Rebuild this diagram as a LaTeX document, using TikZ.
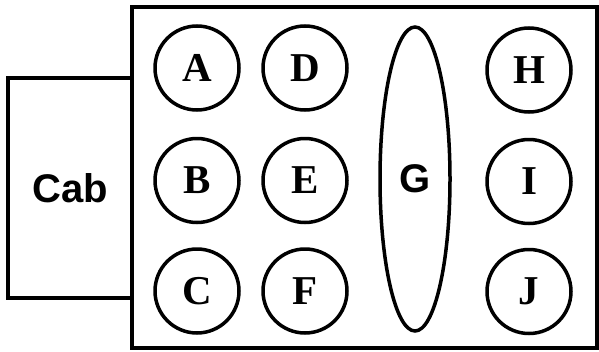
\documentclass[tikz,border=0pt]{standalone}
\usepackage{fontspec}
\setmainfont{Liberation Serif}
\newfontfamily\sanslabel{Liberation Sans}
\usepackage{tikz}
\usetikzlibrary{
  positioning,
  shapes.geometric
}

\begin{document}
\begin{tikzpicture}[
    x=1pt,
    y=-1pt,
    pin/.style={draw,circle,line width=3.5pt,inner sep=0pt,
      minimum size=84pt,font=\fontsize{41}{41}\selectfont\bfseries},
    bigpin/.style={draw,ellipse,line width=3.5pt,inner sep=0pt,
      minimum width=70pt,minimum height=304pt,
      font=\sanslabel\fontsize{40}{40}\selectfont\bfseries}
    ]
    
    \useasboundingbox (0,0) rectangle (599,351);
    
    \node[draw,line width=4pt,minimum width=124pt,minimum height=220pt,
      inner sep=0pt,font=\sanslabel\fontsize{40}{40}\selectfont\bfseries]
    (cab) at (70,188) {Cab};
    
    \draw[line width=4pt] (132,7) rectangle (597,348);
    
    \node[pin] (A) at (197,68) {A};
    \node[pin] (B) at (197,180.5) {B};
    \node[pin] (C) at (197,291) {C};
    
    \node[pin] (D) at (305,68) {D};
    \node[pin] (E) at (305,180.5) {E};
    \node[pin] (F) at (305,291) {F};
    
    \node[bigpin] (G) at (415,179) {G};
    
    \node[pin] (H) at (529,70) {H};
    \node[pin] (I) at (529,181.5) {I};
    \node[pin] (J) at (529,291.5) {J};
    
\end{tikzpicture}
\end{document}
